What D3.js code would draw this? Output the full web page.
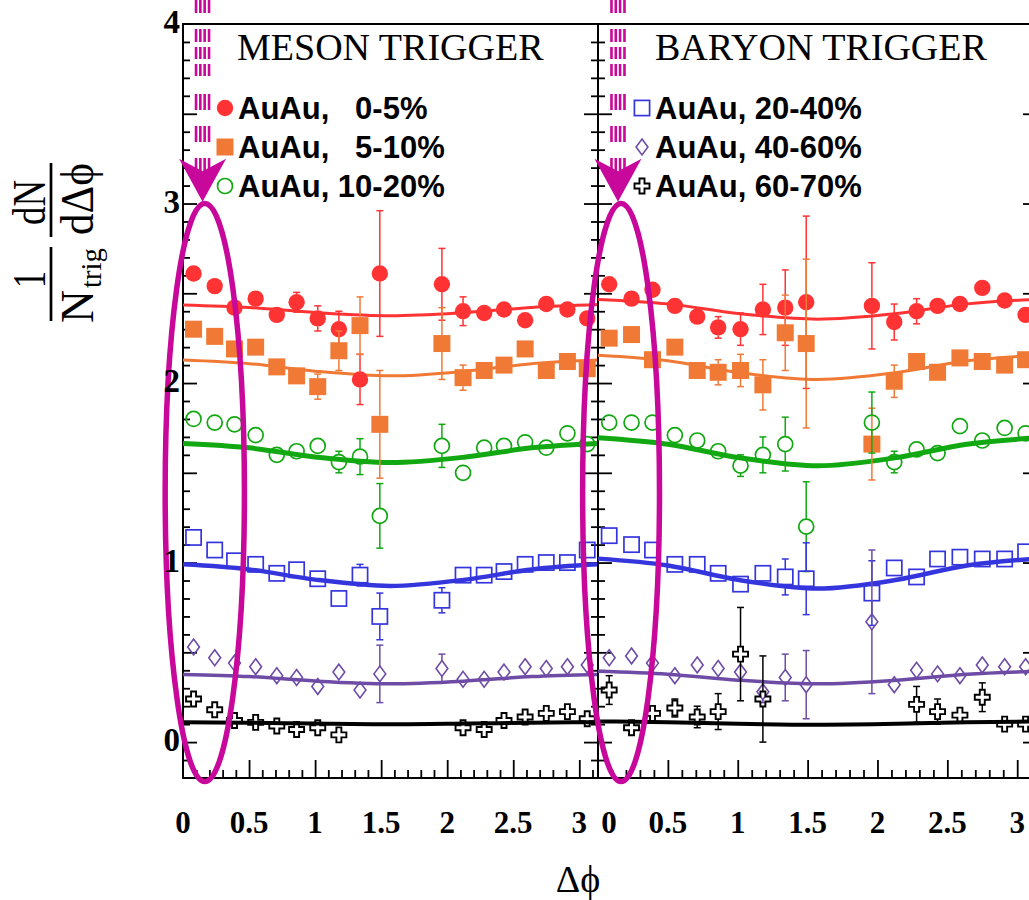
<!DOCTYPE html>
<html>
<head>
<meta charset="utf-8">
<script src="https://cdnjs.cloudflare.com/ajax/libs/d3/7.8.5/d3.min.js"></script>
<style>
  body { margin: 0; background: #fff; }
  svg { display: block; }
</style>
</head>
<body>
<div id="chart"></div>
<script>
// bin centres in delta-phi, shared by every series (two bins near 1.7 are empty)
const dphi = [0.08, 0.24, 0.39, 0.55, 0.71, 0.86, 1.02, 1.18, 1.34, 1.49, 1.96, 2.12, 2.28, 2.43, 2.59, 2.75, 2.91, 3.06];

const centralities = ["0-5%", "5-10%", "10-20%", "20-40%", "40-60%", "60-70%"];
const legendText = ["AuAu,   0-5%", "AuAu,   5-10%", "AuAu, 10-20%", "AuAu, 20-40%", "AuAu, 40-60%", "AuAu, 60-70%"];
const panelTitles = ["MESON TRIGGER", "BARYON TRIGGER"];
const xTickLabels = [0, 0.5, 1, 1.5, 2, 2.5, 3];
const yTickLabels = [0, 1, 2, 3, 4];

// meson trigger
const meson_0_5 = [2.61, 2.54, 2.42, 2.47, 2.38, 2.45, 2.36, 2.30, 2.02, 2.61, 2.55, 2.40, 2.39, 2.41, 2.35, 2.44, 2.41, 2.36];
const meson_0_5_err = [0.02, 0.02, 0.02, 0.02, 0.02, 0.055, 0.07, 0.10, 0.14, 0.35, 0.20, 0.08, 0.02, 0.02, 0.02, 0.02, 0.02, 0.02];
const meson_5_10 = [2.30, 2.26, 2.19, 2.20, 2.09, 2.04, 1.98, 2.18, 2.32, 1.77, 2.22, 2.03, 2.07, 2.10, 2.19, 2.07, 2.12, 2.08];
const meson_5_10_err = [0.02, 0.02, 0.02, 0.02, 0.02, 0.04, 0.07, 0.11, 0.16, 0.30, 0.20, 0.07, 0.02, 0.02, 0.02, 0.02, 0.02, 0.02];
const meson_10_20 = [1.80, 1.78, 1.77, 1.71, 1.60, 1.62, 1.65, 1.56, 1.59, 1.26, 1.65, 1.50, 1.64, 1.65, 1.67, 1.64, 1.72, 1.66];
const meson_10_20_err = [0.02, 0.02, 0.02, 0.02, 0.02, 0.02, 0.02, 0.06, 0.10, 0.18, 0.12, 0.02, 0.02, 0.02, 0.02, 0.02, 0.02, 0.02];
const meson_20_40 = [1.14, 1.07, 1.01, 0.99, 0.94, 0.96, 0.91, 0.80, 0.93, 0.70, 0.79, 0.93, 0.93, 0.95, 0.99, 1.00, 1.00, 1.07];
const meson_20_40_err = [0.02, 0.02, 0.02, 0.02, 0.02, 0.02, 0.02, 0.02, 0.06, 0.13, 0.07, 0.02, 0.02, 0.02, 0.02, 0.02, 0.02, 0.02];
const meson_40_60 = [0.53, 0.47, 0.44, 0.42, 0.37, 0.36, 0.31, 0.39, 0.29, 0.38, 0.41, 0.35, 0.35, 0.39, 0.42, 0.41, 0.42, 0.43];
const meson_40_60_err = [0.02, 0.02, 0.02, 0.02, 0.02, 0.02, 0.05, 0.02, 0.02, 0.16, 0.08, 0.02, 0.02, 0.02, 0.02, 0.02, 0.02, 0.02];
const meson_60_70 = [0.24, 0.18, 0.12, 0.11, 0.09, 0.07, 0.08, 0.04, null, null, null, 0.08, 0.07, 0.12, 0.14, 0.16, 0.17, 0.13];
const meson_60_70_err = [0.02, 0.02, 0.02, 0.02, 0.02, 0.02, 0.02, 0.02, null, null, null, 0.02, 0.02, 0.02, 0.02, 0.02, 0.02, 0.02];

// baryon trigger
const baryon_0_5 = [2.55, 2.47, 2.52, 2.43, 2.37, 2.31, 2.30, 2.41, 2.42, 2.45, 2.43, 2.34, 2.40, 2.43, 2.44, 2.53, 2.46, 2.38];
const baryon_0_5_err = [0.02, 0.02, 0.02, 0.02, 0.02, 0.06, 0.09, 0.14, 0.21, 0.48, 0.24, 0.10, 0.07, 0.05, 0.05, 0.02, 0.02, 0.02];
const baryon_5_10 = [2.25, 2.27, 2.13, 2.20, 2.07, 2.06, 2.07, 1.99, 2.28, 2.22, 1.66, 2.01, 2.12, 2.06, 2.14, 2.12, 2.10, 2.13];
const baryon_5_10_err = [0.02, 0.02, 0.02, 0.02, 0.04, 0.07, 0.09, 0.14, 0.21, 0.47, 0.20, 0.09, 0.05, 0.04, 0.02, 0.02, 0.02, 0.02];
const baryon_10_20 = [1.78, 1.78, 1.78, 1.71, 1.68, 1.62, 1.54, 1.60, 1.66, 1.20, 1.78, 1.56, 1.63, 1.61, 1.76, 1.68, 1.75, 1.72];
const baryon_10_20_err = [0.02, 0.02, 0.02, 0.02, 0.02, 0.02, 0.06, 0.10, 0.15, 0.25, 0.17, 0.06, 0.02, 0.02, 0.02, 0.02, 0.02, 0.02];
const baryon_20_40 = [1.15, 1.10, 1.07, 0.99, 0.99, 0.94, 0.88, 0.94, 0.92, 0.91, 0.83, 0.97, 0.92, 1.02, 1.03, 1.02, 1.02, 1.06];
const baryon_20_40_err = [0.02, 0.02, 0.02, 0.02, 0.02, 0.02, 0.02, 0.04, 0.10, 0.20, 0.18, 0.02, 0.02, 0.02, 0.02, 0.02, 0.02, 0.02];
const baryon_40_60 = [0.47, 0.48, 0.44, 0.37, 0.43, 0.41, 0.39, 0.28, 0.36, 0.32, 0.67, 0.32, 0.40, 0.38, 0.37, 0.43, 0.42, 0.42];
const baryon_40_60_err = [0.02, 0.02, 0.02, 0.02, 0.02, 0.02, 0.02, 0.06, 0.13, 0.19, 0.40, 0.02, 0.02, 0.02, 0.02, 0.02, 0.02, 0.02];
const baryon_60_70 = [0.29, 0.08, 0.16, 0.19, 0.14, 0.17, 0.49, 0.24, null, null, null, null, 0.21, 0.17, 0.15, 0.25, 0.10, 0.10];
const baryon_60_70_err = [0.08, 0.02, 0.02, 0.05, 0.06, 0.10, 0.26, 0.24, null, null, null, null, 0.10, 0.07, 0.04, 0.08, 0.02, 0.02];

const fitPhi = [0, 0.5, 1.0, 1.571, 2.14, 2.64, 3.142];
const mesonFit_0_5 = [2.435, 2.421, 2.393, 2.375, 2.393, 2.421, 2.437];
const mesonFit_5_10 = [2.128, 2.108, 2.066, 2.040, 2.066, 2.108, 2.128];
const mesonFit_10_20 = [1.663, 1.639, 1.588, 1.557, 1.588, 1.639, 1.663];
const mesonFit_20_40 = [0.990, 0.962, 0.905, 0.870, 0.905, 0.962, 0.990];
const mesonFit_40_60 = [0.377, 0.365, 0.340, 0.325, 0.340, 0.365, 0.377];
const mesonFit_60_70 = [0.111, 0.108, 0.103, 0.099, 0.103, 0.108, 0.111];
const baryonFit_0_5 = [2.466, 2.441, 2.388, 2.356, 2.388, 2.441, 2.466];
const baryonFit_5_10 = [2.155, 2.124, 2.059, 2.020, 2.059, 2.124, 2.155];
const baryonFit_10_20 = [1.695, 1.659, 1.585, 1.539, 1.585, 1.659, 1.695];
const baryonFit_20_40 = [1.022, 0.984, 0.904, 0.855, 0.904, 0.984, 1.022];
const baryonFit_40_60 = [0.394, 0.378, 0.345, 0.325, 0.345, 0.378, 0.394];
const baryonFit_60_70 = [0.115, 0.111, 0.102, 0.097, 0.102, 0.111, 0.115];

// the magenta ring + arrow marking the near side, in data coordinates
const ringPhi = [0.165, 0.165];
const ringHalfWidth = [0.30, 0.275];
const ringTop = 3.0, ringBottom = -0.22;
const arrowPhi = [0.148, 0.143];
const arrowTip = 3.01, arrowNotch = 3.18, arrowWing = 3.25;

var width = 1029, height = 900;
var colors = ["#ff3333", "#f07a35", "#12a812", "#3535dd", "#6e4ca6", "#000000"];
var lineWidths = [3, 3, 5, 4.5, 3.5, 4];
var markers = ["circle", "square", "ocircle", "osquare", "diamond", "cross"];
var magenta = "#c8079b";
var serif = "'Liberation Serif', 'DejaVu Serif', serif";

var panels = [
  {title: panelTitles[0], left: 183, right: 598, titleX: 237, legendX: 225, textX: 238, legend: [0, 1, 2],
   values: [meson_0_5, meson_5_10, meson_10_20, meson_20_40, meson_40_60, meson_60_70],
   errors: [meson_0_5_err, meson_5_10_err, meson_10_20_err, meson_20_40_err, meson_40_60_err, meson_60_70_err],
   fits: [mesonFit_0_5, mesonFit_5_10, mesonFit_10_20, mesonFit_20_40, mesonFit_40_60, mesonFit_60_70]},
  {title: panelTitles[1], left: 598, right: 1037, titleX: 655, legendX: 642, textX: 655, legend: [3, 4, 5],
   values: [baryon_0_5, baryon_5_10, baryon_10_20, baryon_20_40, baryon_40_60, baryon_60_70],
   errors: [baryon_0_5_err, baryon_5_10_err, baryon_10_20_err, baryon_20_40_err, baryon_40_60_err, baryon_60_70_err],
   fits: [baryonFit_0_5, baryonFit_5_10, baryonFit_10_20, baryonFit_20_40, baryonFit_40_60, baryonFit_60_70]}
];

var y = d3.scaleLinear().domain([-0.2, 4]).range([778, 24]);

var svg = d3.select("#chart")
  .append("svg")
    .attr("width", width)
    .attr("height", height);

// marker half heights, used to start error bars at the marker edge
var halfSize = {circle: 8, square: 8.5, ocircle: 8, osquare: 8, diamond: 8, cross: 7.5};

function drawMarker(sel, type, color) {
  if (type === "circle") {
    sel.append("circle").attr("r", 8.2).attr("fill", color);
  } else if (type === "square") {
    sel.append("rect").attr("x", -8.5).attr("y", -8.5).attr("width", 17).attr("height", 17).attr("fill", color);
  } else if (type === "ocircle") {
    sel.append("circle").attr("r", 7.5).attr("fill", "none").attr("stroke", color).attr("stroke-width", 1.7);
  } else if (type === "osquare") {
    sel.append("rect").attr("x", -7.6).attr("y", -7.6).attr("width", 15.2).attr("height", 15.2)
      .attr("fill", "none").attr("stroke", color).attr("stroke-width", 1.7);
  } else if (type === "diamond") {
    sel.append("path").attr("d", "M0,-7.9L5.9,0L0,7.9L-5.9,0Z")
      .attr("fill", "none").attr("stroke", color).attr("stroke-width", 1.6);
  } else {
    sel.append("path").attr("d", d3.symbol(d3.symbolCross, 125)())
      .attr("fill", "none").attr("stroke", color).attr("stroke-width", 1.9);
  }
}

panels.forEach(function(p, pi) {
  var x = d3.scaleLinear().domain([0, Math.PI]).range([p.left, p.right]);
  var g = svg.append("g");

  // frame
  g.append("rect")
    .attr("x", p.left).attr("y", y(4))
    .attr("width", p.right - p.left).attr("height", y(-0.2) - y(4))
    .attr("fill", "none").attr("stroke", "#000").attr("stroke-width", 2);

  // ticks, all pointing into the frame
  var xMinor = d3.range(1, 32).filter(function(d) { return d % 5 !== 0; }).map(function(d) { return d / 10; });
  var xMajor = d3.range(1, 7).map(function(d) { return d / 2; });
  var yMinor = d3.range(-1, 40).filter(function(d) { return d % 5 !== 0; }).map(function(d) { return d / 10; });
  var yMajor = d3.range(0, 8).map(function(d) { return d / 2; });

  function clean(s) {
    s.select(".domain").remove();
    s.selectAll("line").attr("stroke-width", 1.8);
  }
  [[xMinor, -8], [xMajor, -18]].forEach(function(t) {
    g.append("g").attr("transform", "translate(0," + y(-0.2) + ")")
      .call(d3.axisBottom(x).tickValues(t[0]).tickSize(t[1]).tickFormat(""))
      .call(clean);
  });
  [[yMinor, -7], [yMajor, -14]].forEach(function(t) {
    g.append("g").attr("transform", "translate(" + p.left + ",0)")
      .call(d3.axisLeft(y).tickValues(t[0]).tickSize(t[1]).tickFormat(""))
      .call(clean);
    g.append("g").attr("transform", "translate(" + p.right + ",0)")
      .call(d3.axisRight(y).tickValues(t[0]).tickSize(t[1]).tickFormat(""))
      .call(clean);
  });

  // x tick labels (right panel's zero nudged off the shared edge)
  g.selectAll(".xlab")
    .data(xTickLabels)
    .enter().append("text")
      .attr("x", function(d) { return x(d) + (pi === 1 && d === 0 ? 11 : 0); })
      .attr("y", 833)
      .attr("text-anchor", "middle")
      .style("font-family", serif)
      .style("font-weight", "bold")
      .style("font-size", "31px")
      .text(function(d) { return d; });

  // fitted curves
  var line = d3.line()
    .x(function(d) { return x(d[0]); })
    .y(function(d) { return y(d[1]); })
    .curve(d3.curveMonotoneX);
  p.fits.forEach(function(f, si) {
    g.append("path")
      .attr("d", line(fitPhi.map(function(v, k) { return [v, f[k]]; })))
      .attr("fill", "none")
      .attr("stroke", colors[si])
      .attr("stroke-width", lineWidths[si]);
  });

  // points with error bars
  p.values.forEach(function(vals, si) {
    var pts = vals.map(function(v, k) { return {phi: dphi[k], v: v, e: p.errors[si][k]}; })
      .filter(function(d) { return d.v !== null; });
    var h = halfSize[markers[si]];
    var eg = g.append("g").attr("stroke", colors[si]).attr("stroke-width", 1.5);
    pts.forEach(function(d) {
      var cx = x(d.phi), cy = y(d.v), top = y(d.v + d.e), bot = y(d.v - d.e);
      if (cy - top <= h + 1) return;
      eg.append("line").attr("x1", cx).attr("x2", cx).attr("y1", top).attr("y2", cy - h);
      eg.append("line").attr("x1", cx).attr("x2", cx).attr("y1", cy + h).attr("y2", bot);
      eg.append("line").attr("x1", cx - 3.5).attr("x2", cx + 3.5).attr("y1", top).attr("y2", top);
      eg.append("line").attr("x1", cx - 3.5).attr("x2", cx + 3.5).attr("y1", bot).attr("y2", bot);
    });
    g.selectAll(".pt" + si)
      .data(pts)
      .enter().append("g")
        .attr("transform", function(d) { return "translate(" + x(d.phi) + "," + y(d.v) + ")"; })
        .each(function() { drawMarker(d3.select(this), markers[si], colors[si]); });
  });

  // panel title and legend
  g.append("text")
    .attr("x", p.titleX).attr("y", 60)
    .style("font-family", serif)
    .style("font-size", "38px")
    .text(p.title);

  p.legend.forEach(function(si, row) {
    var ly = 108 + row * 39;
    drawMarker(g.append("g").attr("transform", "translate(" + p.legendX + "," + ly + ")"), markers[si], colors[si]);
    g.append("text")
      .attr("x", p.textX).attr("y", ly + 10.5)
      .style("font-family", "'Liberation Sans', Arial, sans-serif")
      .style("font-weight", "bold")
      .style("font-size", "31px")
      .style("white-space", "pre")
      .attr("xml:space", "preserve")
      .text(legendText[si]);
  });

  // magenta annotation: dashed guide, arrow head and ring
  var ax = x(arrowPhi[pi]);
  [-6.5, -2.2, 2.1, 6.5].forEach(function(off) {
    g.append("line")
      .attr("x1", ax + off).attr("x2", ax + off)
      .attr("y1", 0).attr("y2", y(arrowNotch))
      .attr("stroke", magenta).attr("stroke-width", 2.6)
      .attr("stroke-dasharray", "13 16 13 5 12 5 12 18 16 16 16 16 15");
  });
  g.append("path")
    .attr("d", "M" + (ax - 23.5) + "," + y(arrowWing) + "L" + ax + "," + y(arrowNotch) +
               "L" + (ax + 23.5) + "," + y(arrowWing) + "L" + ax + "," + y(arrowTip) + "Z")
    .attr("fill", magenta);
  g.append("ellipse")
    .attr("cx", x(ringPhi[pi]))
    .attr("cy", (y(ringTop) + y(ringBottom)) / 2)
    .attr("rx", x(ringHalfWidth[pi]) - x(0))
    .attr("ry", (y(ringBottom) - y(ringTop)) / 2)
    .attr("fill", "none").attr("stroke", magenta).attr("stroke-width", 5.5);
});

// y tick labels
svg.selectAll(".ylab")
  .data(yTickLabels)
  .enter().append("text")
    .attr("x", 180)
    .attr("y", function(d) { return y(d) - 2; })
    .attr("text-anchor", "end")
    .attr("dominant-baseline", "central")
    .style("font-family", serif)
    .style("font-weight", "bold")
    .style("font-size", "33px")
    .text(function(d) { return d; });

// x title
svg.append("text")
  .attr("x", 578).attr("y", 892)
  .attr("text-anchor", "middle")
  .style("font-family", serif)
  .style("font-size", "38px")
  .text("\u0394\u03d5");

// y title: 1/N_trig dN/d(delta phi), drawn as two stacked fractions
var yl = svg.append("g")
  .attr("transform", "rotate(-90)")
  .style("font-family", serif)
  .style("font-size", "46px");
function piece(txt, x0, y0, len, size) {
  var t = yl.append("text").attr("x", x0).attr("y", y0)
    .attr("textLength", len).attr("lengthAdjust", "spacingAndGlyphs").text(txt);
  if (size) t.style("font-size", size);
}
piece("1", -288, 45, 17);
piece("N", -323, 93, 33);
piece("trig", -288, 101, 40, "30px");
piece("dN", -225, 45, 45);
piece("d\u0394\u03d5", -235, 93, 72);
yl.append("line").attr("x1", -321).attr("x2", -247).attr("y1", 51).attr("y2", 51)
  .attr("stroke", "#000").attr("stroke-width", 2.7);
yl.append("line").attr("x1", -237).attr("x2", -163).attr("y1", 51).attr("y2", 51)
  .attr("stroke", "#000").attr("stroke-width", 2.7);
</script>
</body>
</html>
